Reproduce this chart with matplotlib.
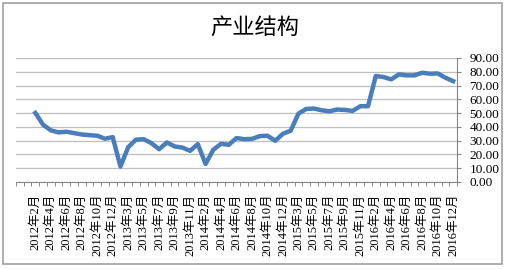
import numpy as np
import matplotlib.pyplot as plt
from matplotlib.patches import Rectangle
from matplotlib.ticker import FormatStrFormatter, FixedLocator

plt.rcParams['font.family'] = ['Liberation Serif', 'Noto Sans CJK SC', 'DejaVu Sans']

# monthly data, Jan is merged into Feb each year
years = [2012, 2013, 2014, 2015, 2016]
months = list(range(2, 13))
periods = [f'{y}年{m}月' for y in years for m in months]

values = [50.1, 41.6, 37.5, 36.0, 36.5, 35.5, 34.5, 34.0, 33.6, 31.4, 32.6,
          11.2, 25.3, 30.7, 31.1, 28.2, 23.8, 28.7, 25.8, 25.0, 22.6, 27.5,
          13.1, 23.4, 27.7, 27.0, 31.9, 31.1, 31.3, 33.3, 33.6, 29.9, 35.0,
          37.2, 49.6, 53.0, 53.3, 52.1, 51.3, 52.6, 52.3, 51.6, 55.0, 55.0,
          76.9, 76.2, 74.5, 78.1, 77.4, 77.4, 79.3, 78.6, 78.8, 75.7, 73.2]

y_ticks = np.arange(0, 91, 10)

fig = plt.figure(figsize=(5.08, 2.69), dpi=100)
ax = fig.add_axes([16 / 508, 1 - 182 / 269, (457 - 16) / 508, (182 - 58) / 269])

x = np.arange(len(values))
ax.plot(x, values, color='#4A7EBB', linewidth=3.2, solid_joinstyle='round', zorder=3)

ax.set_xlim(-2.5, len(values) - 0.5)
ax.set_ylim(0, 90)

# y axis on the right
ax.yaxis.tick_right()
ax.set_yticks(y_ticks)
ax.yaxis.set_major_formatter(FormatStrFormatter('%.2f'))
ax.tick_params(axis='y', direction='out', length=3, width=0.8, color='#868686',
               labelsize=9.5, pad=6)
ax.grid(axis='y', color='#BEBEBE', linewidth=0.9)
ax.set_axisbelow(True)

# labels every other month, ticks at category boundaries
ax.set_xticks(x[::2])
ax.set_xticklabels(periods[::2], rotation=90, fontsize=9)
ax.tick_params(axis='x', which='major', length=0, pad=8.5)
ax.xaxis.set_minor_locator(FixedLocator(np.arange(-2.5, len(values), 1)))
ax.tick_params(axis='x', which='minor', direction='out', length=3, width=0.7,
               color='#868686')

for s in ['left', 'top']:
    ax.spines[s].set_visible(False)
for s in ['right', 'bottom']:
    ax.spines[s].set_color('#868686')
    ax.spines[s].set_linewidth(0.8)

fig.text(255 / 508, 1 - 27 / 269, '产业结构', ha='center', va='center',
         fontsize=16, family=['Noto Sans CJK SC'])

fig.patches.append(Rectangle((3 / 508, 1 - 264 / 269), 499 / 508, 261 / 269,
                             transform=fig.transFigure, fill=False,
                             edgecolor='#A0A0A0', linewidth=1.2))

fig.savefig('out.png', dpi=100)
